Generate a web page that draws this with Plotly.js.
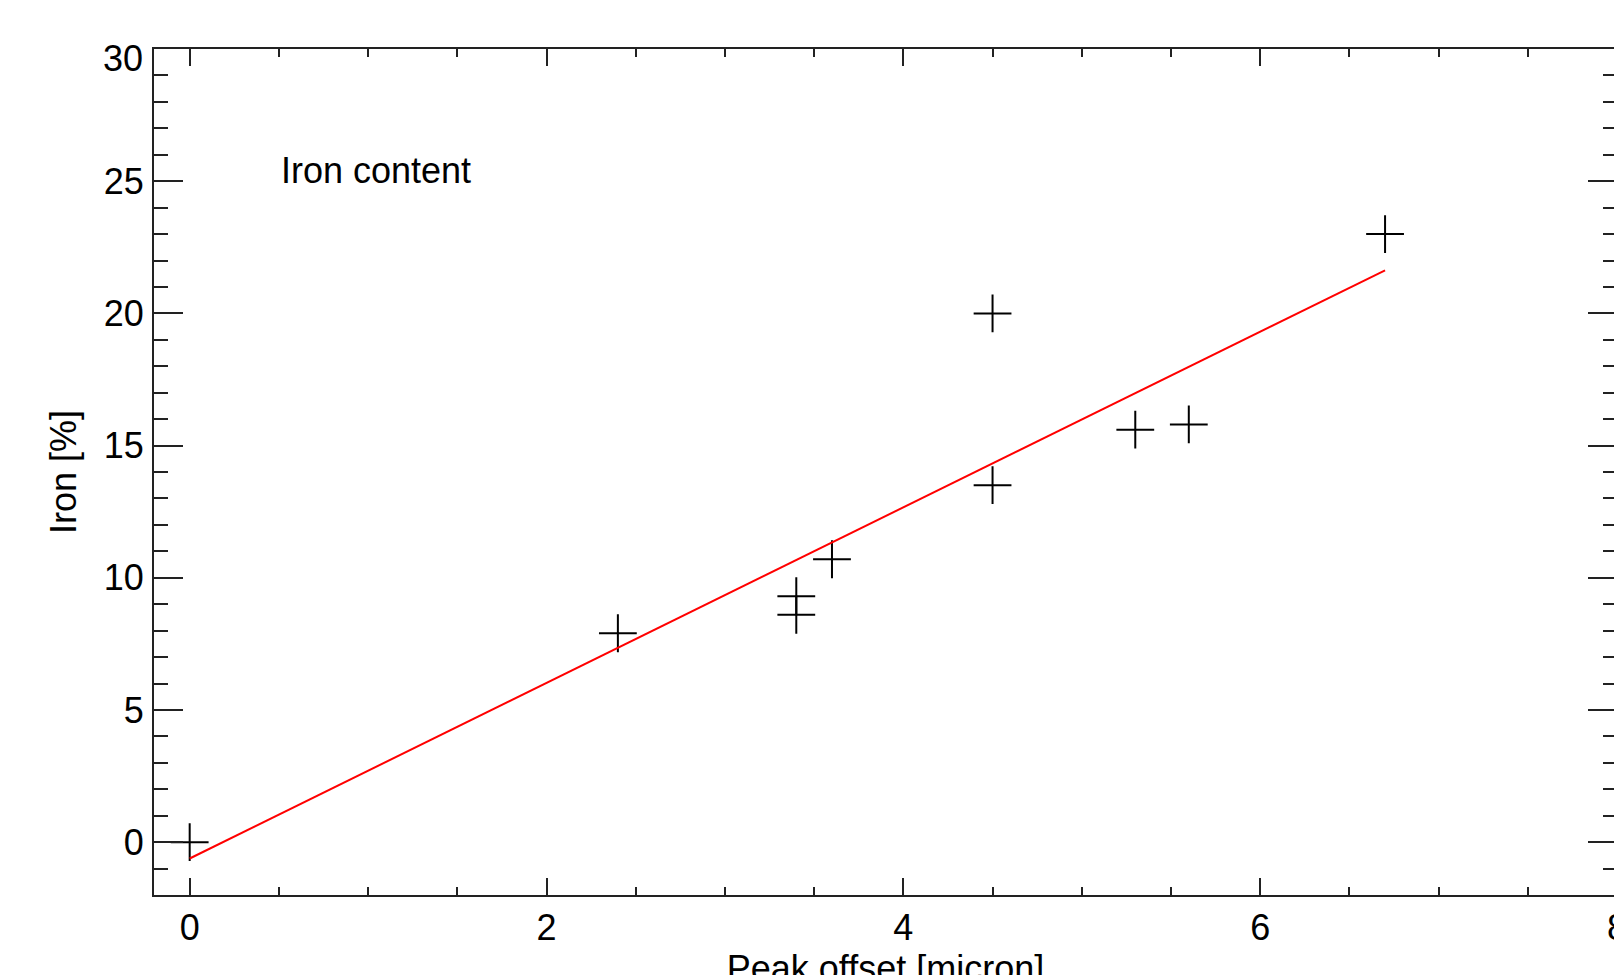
<!DOCTYPE html>
<html>
<head>
<meta charset="utf-8">
<script src="https://cdn.plot.ly/plotly-3.0.1.min.js"></script>
<style>
  html, body { margin: 0; padding: 0; overflow: hidden; background: #fff; }
  #chart { width: 1657px; height: 1015px; }
</style>
</head>
<body>
<div id="chart"></div>
<script>
// Measured data points (Peak offset [micron], Iron [%])
const peakOffset = [0, 2.4, 3.4, 3.4, 3.6, 4.5, 4.5, 5.3, 5.6, 6.7];
const ironPct    = [0, 7.9, 9.3, 8.6, 10.7, 20.0, 13.5, 15.6, 15.8, 23.0];
// Linear fit line endpoints
const fitX = [0, 6.7];
const fitY = [-0.62, 21.63];
// Axis ticks
const xTicks = [0, 2, 4, 6, 8];
const yTicks = [0, 5, 10, 15, 20, 25, 30];
const yTopLabel = '30';

const FONT = 'Liberation Sans, Arial, Helvetica, sans-serif';
const AX = '#222';

const traces = [
  {
    x: peakOffset, y: ironPct, type: 'scatter', mode: 'markers',
    marker: { symbol: 'cross-thin-open', size: 27, color: '#000', line: { color: '#000', width: 2 } },
    showlegend: false, hoverinfo: 'x+y'
  },
  {
    x: fitX, y: fitY, type: 'scatter', mode: 'lines',
    line: { color: '#ff0000', width: 2 },
    showlegend: false
  }
];

const yTickText = yTicks.map(v => (String(v) === yTopLabel ? '' : String(v)));

const layout = {
  width: 1657, height: 1015,
  margin: { l: 154, r: 40, t: 49, b: 120 },
  paper_bgcolor: '#fff', plot_bgcolor: '#fff',
  font: { family: FONT, size: 36, color: '#000' },
  xaxis: {
    range: [-0.2, 8], tickvals: xTicks, ticktext: xTicks.map(String),
    showgrid: false, zeroline: false,
    showline: true, linecolor: AX, linewidth: 2, mirror: 'ticks',
    ticks: 'inside', ticklen: 17, tickwidth: 2, tickcolor: AX,
    minor: { ticks: 'inside', dtick: 0.5, tick0: 0, ticklen: 8, tickwidth: 2, tickcolor: AX, showgrid: false },
    tickfont: { family: FONT, size: 36, color: '#000' },
    ticklabelstandoff: 0,
    ticklabeloverflow: 'allow',
    title: { text: 'Peak offset [micron]', font: { family: FONT, size: 36, color: '#000' }, standoff: 3 },
    automargin: false
  },
  yaxis: {
    range: [-2, 30], tickvals: yTicks, ticktext: yTickText,
    showgrid: false, zeroline: false,
    showline: true, linecolor: AX, linewidth: 2, mirror: 'ticks',
    ticks: 'inside', ticklen: 29, tickwidth: 2, tickcolor: AX,
    minor: { ticks: 'inside', dtick: 1, tick0: 0, ticklen: 14, tickwidth: 2, tickcolor: AX, showgrid: false },
    tickfont: { family: FONT, size: 36, color: '#000' },
    ticklabelstandoff: 1,
    title: { text: 'Iron [%]', font: { family: FONT, size: 36, color: '#000' }, standoff: 16 },
    automargin: false
  },
  annotations: [
    {
      x: 0.5, y: 25.42, xref: 'x', yref: 'y', xanchor: 'left', yanchor: 'middle',
      text: 'Iron content', showarrow: false,
      font: { family: FONT, size: 36, color: '#000' }
    },
    {
      x: 0, y: Number(yTopLabel), xref: 'paper', yref: 'y', xanchor: 'right', yanchor: 'middle',
      xshift: -9, yshift: -9,
      text: yTopLabel, showarrow: false,
      font: { family: FONT, size: 36, color: '#000' }
    }
  ]
};

Plotly.newPlot('chart', traces, layout, { displayModeBar: false, staticPlot: true });
</script>
</body>
</html>
